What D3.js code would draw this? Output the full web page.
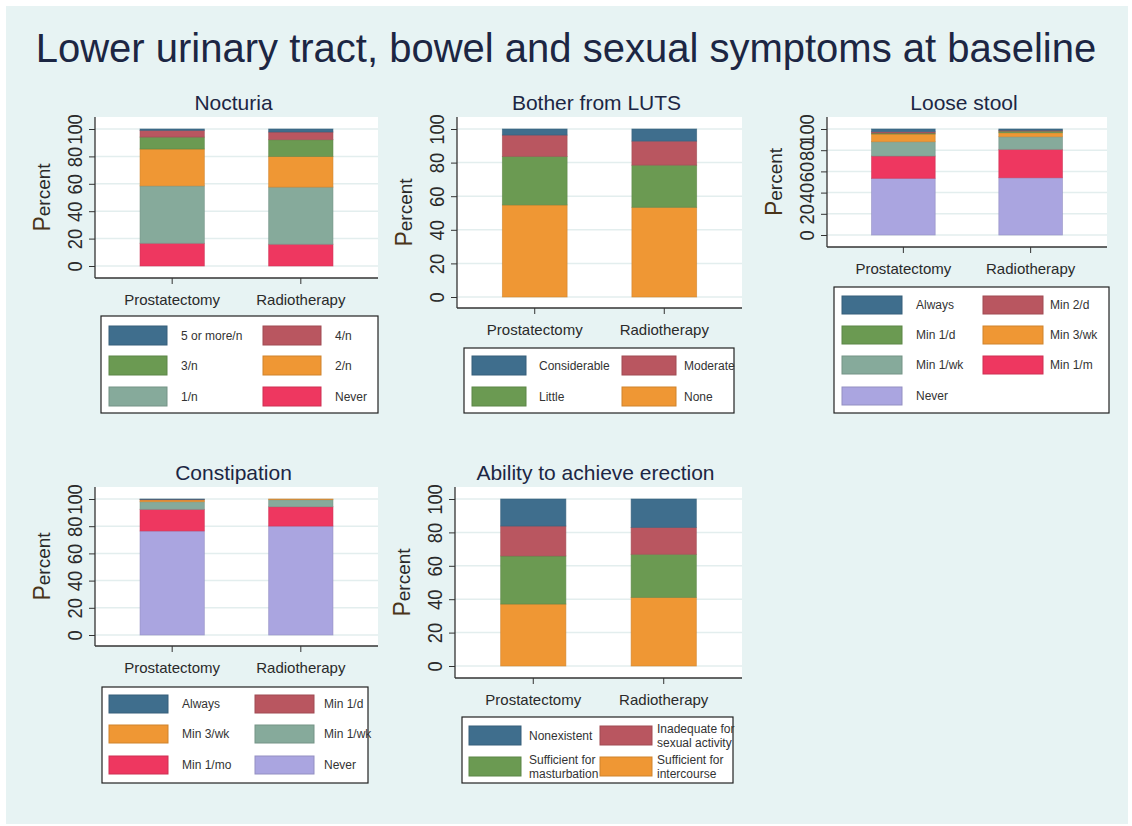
<!DOCTYPE html>
<html>
<head>
<meta charset="utf-8">
<script src="https://cdn.jsdelivr.net/npm/d3@7"></script>
<style>
  body { margin: 0; background: #fff; }
  text { font-family: "Liberation Sans", Arial, sans-serif; }
</style>
</head>
<body>
<svg id="chart" width="1132" height="826"></svg>
<script>
// ---- data, stacks listed bottom to top ----
var groups = ["Prostatectomy", "Radiotherapy"];
var yTicks = [0, 20, 40, 60, 80, 100];

var nocturiaCats = ["Never", "1/n", "2/n", "3/n", "4/n", "5 or more/n"];
var nocturiaProst = [16.6, 41.9, 26.9, 8.7, 4.9, 1.0];
var nocturiaRadio = [15.9, 41.7, 22.4, 12.2, 5.6, 2.2];

var lutsCats = ["None", "Little", "Moderate", "Considerable"];
var lutsProst = [54.8, 28.9, 12.7, 3.6];
var lutsRadio = [53.4, 25.1, 14.3, 7.2];

var looseCats = ["Never", "Min 1/m", "Min 1/wk", "Min 3/wk", "Min 1/d", "Min 2/d", "Always"];
var looseProst = [53.5, 21.0, 13.5, 7.3, 0.9, 1.2, 2.6];
var looseRadio = [54.0, 26.8, 11.9, 3.8, 1.5, 0.8, 1.2];

var constipCats = ["Never", "Min 1/mo", "Min 1/wk", "Min 3/wk", "Min 1/d", "Always"];
var constipProst = [76.5, 15.9, 5.6, 1.4, 0.2, 0.4];
var constipRadio = [80.1, 14.2, 5.2, 0.5, 0, 0];

var erectCats = ["Sufficient for\nintercourse", "Sufficient for\nmasturbation", "Inadequate for\nsexual activity", "Nonexistent"];
var erectProst = [37.1, 28.8, 17.9, 16.2];
var erectRadio = [41.1, 25.8, 16.1, 17.0];

var blue = "#3f6e8d", rose = "#b95660", green = "#6b9a52", orange = "#ef9734",
    sage = "#86aa9b", pink = "#ee3760", lavender = "#aaa5e0";

var svg = d3.select("#chart");

svg.append("rect").attr("x", 6).attr("y", 6).attr("width", 1122).attr("height", 818)
  .attr("fill", "#e7f3f3");

svg.append("text").attr("x", 566).attr("y", 62).attr("text-anchor", "middle")
  .attr("font-size", 40).attr("fill", "#1c2643")
  .text("Lower urinary tract, bowel and sexual symptoms at baseline");

var panels = [
  { title: "Nocturia", cats: nocturiaCats, vals: [nocturiaProst, nocturiaRadio],
    colors: [pink, sage, orange, green, rose, blue],
    left: 95, right: 378, top: 117, bottom: 278, y0: 266, y100: 129, titleY: 110,
    legend: { box: [101, 316, 277, 97], sx: [109, 263], sw: 58, sh: 19, rows: [326, 356, 387], lx: [181, 335] } },
  { title: "Bother from LUTS", cats: lutsCats, vals: [lutsProst, lutsRadio],
    colors: [orange, green, rose, blue],
    left: 457, right: 742, top: 117, bottom: 308, y0: 297, y100: 129, titleY: 110,
    legend: { box: [464, 348, 270, 65], sx: [472, 622], sw: 54, sh: 19, rows: [356, 387], lx: [539, 684] } },
  { title: "Loose stool", cats: looseCats, vals: [looseProst, looseRadio],
    colors: [lavender, pink, sage, orange, green, rose, blue],
    left: 827, right: 1107, top: 117, bottom: 247, y0: 235, y100: 129, titleY: 110,
    legend: { box: [834, 287, 275, 126], sx: [842, 983], sw: 60, sh: 18, rows: [296, 326, 356, 387], lx: [916, 1050] } },
  { title: "Constipation", cats: constipCats, vals: [constipProst, constipRadio],
    colors: [lavender, pink, sage, orange, rose, blue],
    left: 95, right: 378, top: 487, bottom: 646, y0: 635, y100: 499, titleY: 480,
    legend: { box: [102, 687, 266, 96], sx: [109, 255], sw: 59, sh: 18, rows: [695, 725, 756], lx: [182, 324] } },
  { title: "Ability to achieve erection", cats: erectCats, vals: [erectProst, erectRadio],
    colors: [orange, green, rose, blue],
    left: 455, right: 742, top: 487, bottom: 678, y0: 666, y100: 499, titleY: 480,
    legend: { box: [462, 717, 271, 66], sx: [469, 600], sw: 52, sh: 19, rows: [726, 757], lx: [529, 657] } }
];

panels.forEach(function(p) {
  var g = svg.append("g");

  var x = d3.scaleBand().domain(groups).range([p.left, p.right])
    .paddingInner(0.5).paddingOuter(0.35);
  var y = d3.scaleLinear().domain([0, 100]).range([p.y0, p.y100]);

  // title
  g.append("text").attr("x", (p.left + p.right) / 2 - 3).attr("y", p.titleY)
    .attr("text-anchor", "middle").attr("font-size", 21).attr("fill", "#1c2643")
    .text(p.title);

  // plot region
  g.append("rect").attr("x", p.left).attr("y", p.top)
    .attr("width", p.right - p.left).attr("height", p.bottom - p.top).attr("fill", "#fff");

  g.selectAll(".grid").data(yTicks).enter().append("line")
    .attr("x1", p.left).attr("x2", p.right)
    .attr("y1", function(d) { return y(d); }).attr("y2", function(d) { return y(d); })
    .attr("stroke", "#e3eeee").attr("stroke-width", 1.5);

  // stacked bars
  var rows = groups.map(function(grp, i) {
    var r = { group: grp };
    p.cats.forEach(function(c, j) { r[c] = p.vals[i][j]; });
    return r;
  });
  var series = d3.stack().keys(p.cats)(rows);
  var color = d3.scaleOrdinal().domain(p.cats).range(p.colors);

  g.selectAll(".layer").data(series).enter().append("g")
    .attr("fill", function(s) { return color(s.key); })
    .attr("stroke", function(s) { return d3.color(color(s.key)).darker(0.4); })
    .selectAll("rect").data(function(s) { return s; }).enter().append("rect")
    .attr("x", function(d) { return x(d.data.group); })
    .attr("width", x.bandwidth())
    .attr("y", function(d) { return y(d[1]); })
    .attr("height", function(d) { return Math.max(0, y(d[0]) - y(d[1])); })
    .attr("stroke-width", function(d) { return d[1] - d[0] > 0 ? 0.8 : 0; })
    .attr("stroke-opacity", 0.7);

  // y axis
  var ya = g.append("g").attr("transform", "translate(" + p.left + ",0)")
    .call(d3.axisLeft(y).tickValues(yTicks).tickSize(6).tickSizeOuter(0));
  ya.select(".domain").remove();
  ya.selectAll(".tick line").attr("stroke", "#333");
  ya.selectAll(".tick text")
    .attr("x", 0).attr("y", -13).attr("dy", 0)
    .attr("text-anchor", "middle")
    .attr("transform", "rotate(-90) scale(0.92,1)")
    .attr("font-size", 20).attr("fill", "#2a2a2a");
  g.append("line").attr("x1", p.left).attr("x2", p.left)
    .attr("y1", p.top).attr("y2", p.bottom).attr("stroke", "#333").attr("stroke-width", 1.3);

  // x axis
  var xa = g.append("g").attr("transform", "translate(0," + p.bottom + ")")
    .call(d3.axisBottom(x).tickSize(6).tickSizeOuter(0));
  xa.select(".domain").remove();
  xa.selectAll(".tick line").attr("stroke", "#333");
  xa.selectAll(".tick text").attr("y", 27).attr("dy", 0)
    .attr("font-size", 15).attr("fill", "#2a2a2a");
  g.append("line").attr("x1", p.left).attr("x2", p.right)
    .attr("y1", p.bottom).attr("y2", p.bottom).attr("stroke", "#333").attr("stroke-width", 1.3);

  // y title
  var yt = g.append("text")
    .attr("transform", "translate(" + (p.left - 45) + "," + ((p.top + p.bottom) / 2) + ") rotate(-90)")
    .attr("text-anchor", "middle").attr("fill", "#2a2a2a").attr("font-size", 19);
  yt.append("tspan").attr("font-size", 23).attr("fill", "#4a3418").text("P");
  yt.append("tspan").text("ercent");

  // legend (reverse of stack order, two columns)
  var L = p.legend;
  g.append("rect").attr("x", L.box[0]).attr("y", L.box[1])
    .attr("width", L.box[2]).attr("height", L.box[3])
    .attr("fill", "#fff").attr("stroke", "#222").attr("stroke-width", 1.2);

  var items = p.cats.slice().reverse();
  var li = g.selectAll(".li").data(items).enter().append("g")
    .attr("transform", function(d, i) {
      return "translate(0," + L.rows[Math.floor(i / 2)] + ")";
    });
  li.append("rect")
    .attr("x", function(d, i) { return L.sx[i % 2]; })
    .attr("width", L.sw).attr("height", L.sh)
    .attr("fill", function(d) { return color(d); })
    .attr("stroke", function(d) { return d3.color(color(d)).darker(0.4); })
    .attr("stroke-width", 1);
  li.each(function(d, i) {
    var lines = d.split("\n");
    var t = d3.select(this).append("text")
      .attr("x", L.lx[i % 2]).attr("font-size", 12).attr("fill", "#333");
    lines.forEach(function(s, k) {
      t.append("tspan").attr("x", L.lx[i % 2])
        .attr("y", L.sh / 2 + 4 + (k - (lines.length - 1) / 2) * 14)
        .text(s);
    });
  });
});
</script>
</body>
</html>
